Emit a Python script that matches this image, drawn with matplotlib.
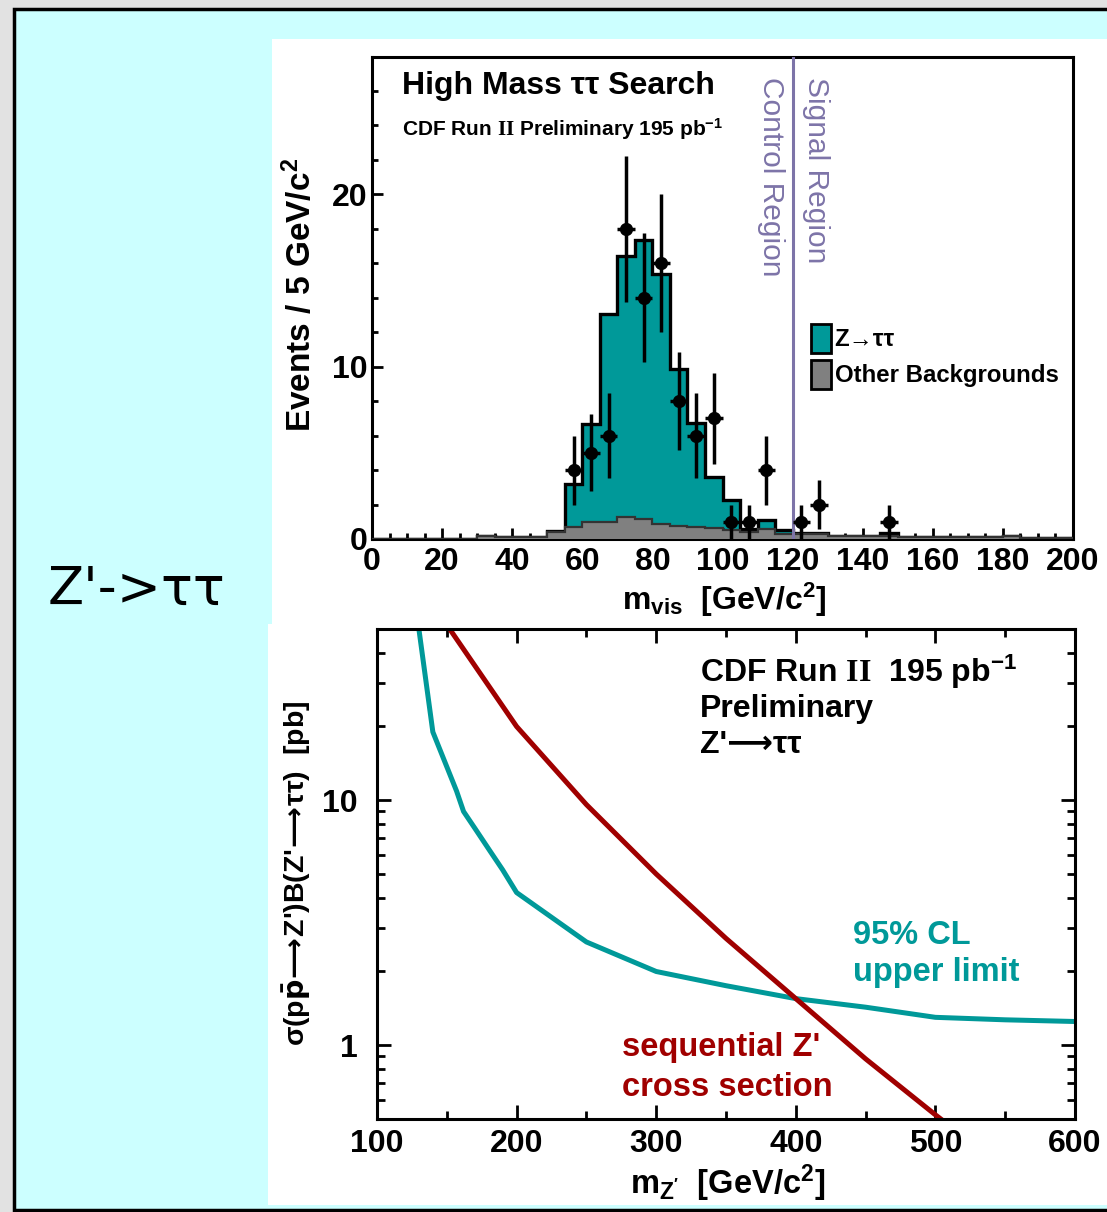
import numpy as np
import matplotlib
matplotlib.use('Agg')
import matplotlib.pyplot as plt
from matplotlib.patches import Rectangle, Patch
from matplotlib.ticker import MultipleLocator, LogLocator, NullFormatter, FixedLocator, FixedFormatter

# ---- top panel: visible mass histogram ----
bin_edges = np.arange(0, 205, 5)
other_bkg = [0, 0, 0, 0, 0, 0, 0.2, 0.12, 0.12, 0.12,
             0.4, 0.7, 1.0, 1.0, 1.25, 1.15, 0.85, 0.75, 0.7, 0.62,
             0.5, 0.4, 0.6, 0.3, 0.27, 0.27, 0.15, 0.15, 0.15, 0.2,
             0.12, 0.12, 0.12, 0.12, 0.12, 0.12, 0.15, 0.04, 0.04, 0.04]
z_tautau = [0, 0, 0, 0, 0, 0, 0, 0, 0, 0,
            0.05, 2.5, 5.7, 12.05, 15.15, 16.2, 14.5, 9.1, 6.05, 2.95,
            1.75, 0.2, 0.5, 0.25, 0.1, 0.05, 0.03, 0.03, 0.03, 0.15,
            0, 0, 0, 0, 0, 0, 0, 0, 0, 0]
data_mass = [57.5, 62.5, 67.5, 72.5, 77.5, 82.5, 87.5, 92.5, 97.5, 102.5, 107.5, 112.5, 122.5, 127.5, 147.5]
data_counts = [4, 5, 6, 18, 14, 16, 8, 6, 7, 1, 1, 4, 1, 2, 1]
region_cut = 120

# ---- bottom panel: Z' cross section limit ----
limit_mass = [128, 130, 140, 150, 157, 162, 170, 181, 190, 200, 250, 300, 350, 400, 450, 500, 550, 600]
limit_xs = [56, 50, 19, 13.7, 10.9, 9.0, 7.7, 6.2, 5.2, 4.2, 2.64, 2.0, 1.75, 1.55, 1.43, 1.30, 1.27, 1.25]
seq_mass = [150, 200, 250, 300, 350, 400, 450, 500, 510]
seq_xs = [52, 20, 9.6, 5.0, 2.73, 1.55, 0.88, 0.52, 0.47]

TEAL = '#009999'
GREY = '#808080'
RED = '#a00000'
PURPLE = '#7d74a8'
ARROW = '\u27f6'

plt.rcParams['font.family'] = ['Liberation Sans', 'DejaVu Sans']
plt.rcParams['font.weight'] = 'bold'
plt.rcParams['mathtext.fontset'] = 'custom'
plt.rcParams['mathtext.rm'] = 'Liberation Serif'
plt.rcParams['mathtext.sf'] = 'Liberation Sans:bold'
plt.rcParams['mathtext.bf'] = 'Liberation Sans:bold'
plt.rcParams['mathtext.it'] = 'Liberation Sans:italic'

W, H = 1107, 1212
fig = plt.figure(figsize=(W / 100, H / 100), dpi=100, facecolor='#e2e2e2')


def box(x0, y0, x1, y1):
    # pixel box (top-left origin) -> figure fraction [left, bottom, width, height]
    return [x0 / W, 1 - y1 / H, (x1 - x0) / W, (y1 - y0) / H]


def add_rect(x0, y0, x1, y1, **kw):
    l, b, w, h = box(x0, y0, x1, y1)
    fig.add_artist(Rectangle((l, b), w, h, transform=fig.transFigure, zorder=-10, **kw))


# slide background and white picture panels
add_rect(14, 9, 1130, 1210, facecolor='#ccffff', edgecolor='black', lw=2.5)
add_rect(272, 39, 1107, 624, facecolor='white', edgecolor='none')
add_rect(268, 624, 1107, 1205, facecolor='white', edgecolor='none')

fig.text(137 / W, 1 - 590 / H, "Z'->\u03c4\u03c4", fontsize=38, fontweight='normal',
         family='DejaVu Sans', ha='center', va='center')

# ---------------- top histogram ----------------
ax1 = fig.add_axes(box(372, 56.5, 1073, 539))
total = np.array(other_bkg) + np.array(z_tautau)
ax1.stairs(total, bin_edges, fill=True, color=TEAL, zorder=1)
ax1.stairs(total, bin_edges, color='black', lw=2.4, zorder=2)
ax1.stairs(other_bkg, bin_edges, fill=True, color=GREY, zorder=3)
ax1.stairs(other_bkg, bin_edges, color='#333333', lw=1.6, zorder=4)
ax1.errorbar(data_mass, data_counts, yerr=np.sqrt(data_counts), xerr=2.5,
             fmt='o', color='black', ms=8.5, elinewidth=2.5, capsize=0, zorder=6)
ax1.axvline(region_cut, color=PURPLE, lw=2.2, zorder=5)

ax1.set_xlim(0, 200)
ax1.set_ylim(0, 28)
ax1.xaxis.set_major_locator(MultipleLocator(20))
ax1.xaxis.set_minor_locator(MultipleLocator(5))
ax1.yaxis.set_major_locator(MultipleLocator(10))
ax1.yaxis.set_minor_locator(MultipleLocator(2))
ax1.tick_params(which='both', direction='in', width=2, labelsize=23, top=False, right=False)
ax1.tick_params(which='major', length=8)
ax1.tick_params(which='minor', length=4)
ax1.tick_params(axis='x', pad=6)
ax1.tick_params(axis='y', pad=3)
for s in ax1.spines.values():
    s.set_linewidth(2.2)

ax1.text(8.6, 26.3, "High Mass \u03c4\u03c4 Search", fontsize=23, ha='left', va='center')
ax1.text(8.6, 23.8, "CDF Run $\\mathrm{II}$ Preliminary 195 pb$^{\\mathsf{-1}}$",
         fontsize=15, ha='left', va='center')
ax1.text(113.8, 26.8, "Control Region", rotation=-90, fontsize=21.5, fontweight='normal',
         color=PURPLE, ha='center', va='top')
ax1.text(126.6, 26.8, "Signal Region", rotation=-90, fontsize=21.5, fontweight='normal',
         color=PURPLE, ha='center', va='top')

handles = [Patch(facecolor=TEAL, edgecolor='black', lw=2, label="Z\u2192\u03c4\u03c4"),
           Patch(facecolor=GREY, edgecolor='black', lw=2, label="Other Backgrounds")]
ax1.legend(handles=handles, loc='upper left', bbox_to_anchor=(0.612, 0.465), frameon=False,
           fontsize=17.3, handlelength=0.85, handleheight=1.45, handletextpad=0.15,
           labelspacing=0.3, borderaxespad=0)

fig.text(300 / W, 1 - 295 / H, "Events / 5 GeV/c$^{\\mathsf{2}}$", rotation=90,
         fontsize=24, ha='center', va='center')
fig.text(724 / W, 1 - 600 / H, "m$_{\\mathsf{vis}}$  [GeV/c$^{\\mathsf{2}}$]",
         fontsize=23, ha='center', va='center')

# ---------------- bottom limit plot ----------------
ax2 = fig.add_axes(box(377, 629, 1075, 1119))
ax2.plot(limit_mass, limit_xs, color=TEAL, lw=3.6)
ax2.plot(seq_mass, seq_xs, color=RED, lw=3.6)
ax2.set_yscale('log')
ax2.set_xlim(100, 600)
ax2.set_ylim(0.5, 50)
ax2.xaxis.set_major_locator(MultipleLocator(100))
ax2.xaxis.set_minor_locator(MultipleLocator(50))
ax2.yaxis.set_major_locator(FixedLocator([1, 10]))
ax2.yaxis.set_major_formatter(FixedFormatter(['1', '10']))
ax2.yaxis.set_minor_locator(LogLocator(base=10, subs=np.arange(2, 10)))
ax2.yaxis.set_minor_formatter(NullFormatter())
ax2.tick_params(which='both', direction='in', width=2, labelsize=23, top=True, right=True)
ax2.tick_params(which='major', length=10)
ax2.tick_params(which='minor', length=6)
ax2.tick_params(axis='x', pad=7)
ax2.tick_params(axis='y', pad=14)
for s in ax2.spines.values():
    s.set_linewidth(2.2)

ax2.text(0.463, 0.912, "CDF Run $\\mathrm{II}$  195 pb$^{\\mathsf{-1}}$", transform=ax2.transAxes,
         fontsize=23, ha='left', va='center')
ax2.text(0.463, 0.837, "Preliminary", transform=ax2.transAxes, fontsize=23, ha='left', va='center')
ax2.text(0.463, 0.763, "Z'" + ARROW + "\u03c4\u03c4", transform=ax2.transAxes, fontsize=23,
         ha='left', va='center')
ax2.text(0.682, 0.3755, "95% CL", transform=ax2.transAxes, fontsize=23.5, color=TEAL,
         ha='left', va='center')
ax2.text(0.682, 0.300, "upper limit", transform=ax2.transAxes, fontsize=23.5, color=TEAL,
         ha='left', va='center')
ax2.text(0.351, 0.145, "sequential Z'", transform=ax2.transAxes, fontsize=23.5, color=RED,
         ha='left', va='center')
ax2.text(0.351, 0.065, "cross section", transform=ax2.transAxes, fontsize=23.5, color=RED,
         ha='left', va='center')

fig.text(297 / W, 1 - 873 / H,
         "\u03c3(p$\\bar{\\mathbf{p}}\\!\\longrightarrow\\!$Z')B(Z'$\\!\\longrightarrow\\!$\u03c4\u03c4)  [pb]",
         rotation=90, fontsize=20.5, ha='center', va='center', math_fontfamily='dejavusans')
fig.text(728 / W, 1 - 1183 / H, "m$_{\\mathsf{Z'}}$  [GeV/c$^{\\mathsf{2}}$]",
         fontsize=23.5, ha='center', va='center')

fig.savefig('out.png', dpi=100, facecolor=fig.get_facecolor())
